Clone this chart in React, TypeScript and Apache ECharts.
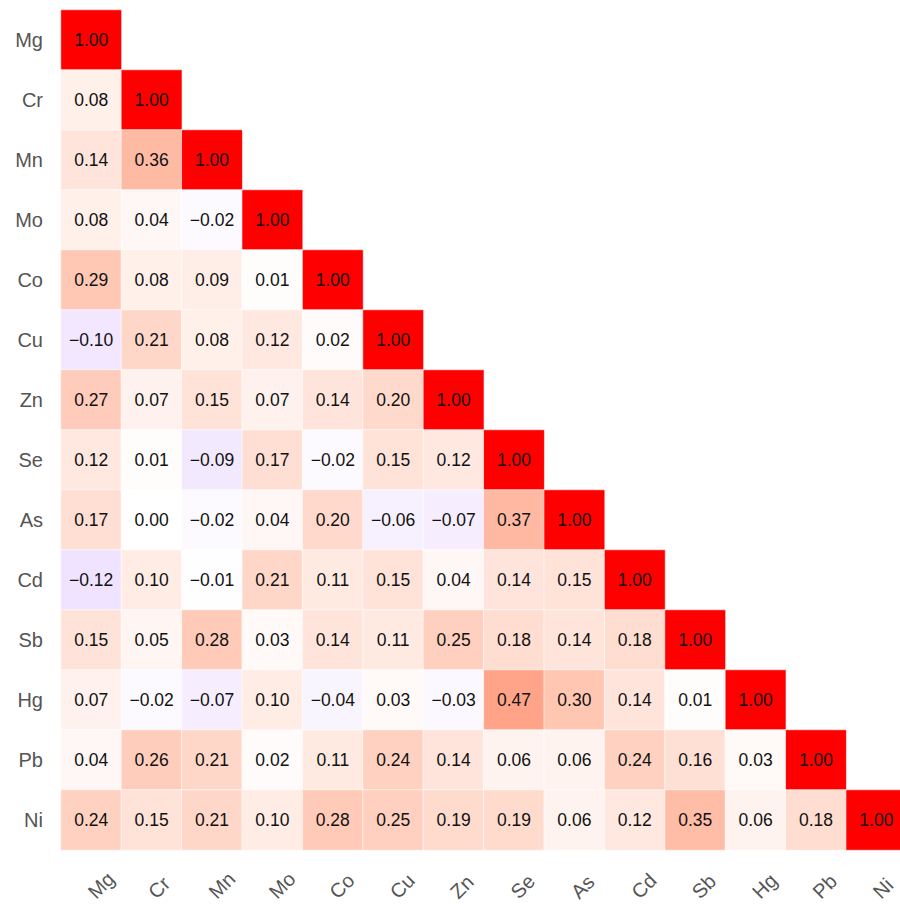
import React, { useEffect, useRef } from "react";
import * as echarts from "echarts";

const elements = ["Mg", "Cr", "Mn", "Mo", "Co", "Cu", "Zn", "Se", "As", "Cd", "Sb", "Hg", "Pb", "Ni"];

const rowMg = [1.0];
const rowCr = [0.08, 1.0];
const rowMn = [0.14, 0.36, 1.0];
const rowMo = [0.08, 0.04, -0.02, 1.0];
const rowCo = [0.29, 0.08, 0.09, 0.01, 1.0];
const rowCu = [-0.1, 0.21, 0.08, 0.12, 0.02, 1.0];
const rowZn = [0.27, 0.07, 0.15, 0.07, 0.14, 0.2, 1.0];
const rowSe = [0.12, 0.01, -0.09, 0.17, -0.02, 0.15, 0.12, 1.0];
const rowAs = [0.17, 0.0, -0.02, 0.04, 0.2, -0.06, -0.07, 0.37, 1.0];
const rowCd = [-0.12, 0.1, -0.01, 0.21, 0.11, 0.15, 0.04, 0.14, 0.15, 1.0];
const rowSb = [0.15, 0.05, 0.28, 0.03, 0.14, 0.11, 0.25, 0.18, 0.14, 0.18, 1.0];
const rowHg = [0.07, -0.02, -0.07, 0.1, -0.04, 0.03, -0.03, 0.47, 0.3, 0.14, 0.01, 1.0];
const rowPb = [0.04, 0.26, 0.21, 0.02, 0.11, 0.24, 0.14, 0.06, 0.06, 0.24, 0.16, 0.03, 1.0];
const rowNi = [0.24, 0.15, 0.21, 0.1, 0.28, 0.25, 0.19, 0.19, 0.06, 0.12, 0.35, 0.06, 0.18, 1.0];

const rows = [rowMg, rowCr, rowMn, rowMo, rowCo, rowCu, rowZn, rowSe, rowAs, rowCd, rowSb, rowHg, rowPb, rowNi];

// --- Lab interpolation helpers for the diverging colour scale ---
function srgbToLin(c: number) {
  c /= 255;
  return c <= 0.04045 ? c / 12.92 : Math.pow((c + 0.055) / 1.055, 2.4);
}
function linToSrgb(c: number) {
  c = Math.max(0, Math.min(1, c));
  const v = c <= 0.0031308 ? 12.92 * c : 1.055 * Math.pow(c, 1 / 2.4) - 0.055;
  return Math.round(Math.max(0, Math.min(1, v)) * 255);
}
const Xn = 0.95047, Yn = 1.0, Zn = 1.08883;
function rgbToLab(rgb: number[]) {
  const r = srgbToLin(rgb[0]), g = srgbToLin(rgb[1]), b = srgbToLin(rgb[2]);
  const X = (0.4124 * r + 0.3576 * g + 0.1805 * b) / Xn;
  const Y = (0.2126 * r + 0.7152 * g + 0.0722 * b) / Yn;
  const Z = (0.0193 * r + 0.1192 * g + 0.9505 * b) / Zn;
  const f = (t: number) => (t > 0.008856 ? Math.cbrt(t) : 7.787 * t + 16 / 116);
  const fx = f(X), fy = f(Y), fz = f(Z);
  return [116 * fy - 16, 500 * (fx - fy), 200 * (fy - fz)];
}
function labToRgb(lab: number[]) {
  const fy = (lab[0] + 16) / 116;
  const fx = fy + lab[1] / 500;
  const fz = fy - lab[2] / 200;
  const inv = (t: number) => (t > 0.206893 ? t * t * t : (t - 16 / 116) / 7.787);
  const X = inv(fx) * Xn, Y = inv(fy) * Yn, Z = inv(fz) * Zn;
  const r = 3.2406 * X - 1.5372 * Y - 0.4986 * Z;
  const g = -0.9689 * X + 1.8758 * Y + 0.0415 * Z;
  const b = 0.0557 * X - 0.204 * Y + 1.057 * Z;
  return "rgb(" + linToSrgb(r) + "," + linToSrgb(g) + "," + linToSrgb(b) + ")";
}
function buildStops(n: number) {
  const neg = rgbToLab([0, 0, 255]);
  const mid = rgbToLab([255, 255, 255]);
  const pos = rgbToLab([255, 0, 0]);
  const out: string[] = [];
  for (let i = 0; i <= n; i++) {
    const v = -1 + (2 * i) / n;
    const end = v < 0 ? neg : pos;
    const t = Math.abs(v);
    out.push(labToRgb([mid[0] + (end[0] - mid[0]) * t, mid[1] + (end[1] - mid[1]) * t, mid[2] + (end[2] - mid[2]) * t]));
  }
  return out;
}

const FONT = "'Liberation Sans', Arial, Helvetica, sans-serif";

export default function App() {
  const ref = useRef<HTMLDivElement>(null);
  useEffect(() => {
    if (!ref.current) return;
    const chart = echarts.init(ref.current, null, { renderer: "svg" });
    const data: any[] = [];
    rows.forEach((row, r) => {
      row.forEach((v, c) => {
        data.push([c, r, v]);
      });
    });
    chart.setOption({
      animation: false,
      backgroundColor: "#ffffff",
      grid: { left: 61, top: 10, width: 845.6, height: 840, outerBoundsMode: "none", containLabel: false },
      xAxis: {
        type: "category",
        data: elements,
        axisLine: { show: false },
        axisTick: { show: false },
        splitLine: { show: false },
        axisLabel: {
          rotate: 45,
          align: "left",
          verticalAlign: "middle",
          margin: 45,
          fontSize: 20,
          color: "#555555",
          fontFamily: FONT,
          interval: 0,
        },
      },
      yAxis: {
        type: "category",
        data: elements,
        inverse: true,
        axisLine: { show: false },
        axisTick: { show: false },
        splitLine: { show: false },
        axisLabel: { margin: 18, fontSize: 20, color: "#555555", fontFamily: FONT, interval: 0 },
      },
      visualMap: {
        show: false,
        type: "continuous",
        min: -1,
        max: 1,
        dimension: 2,
        inRange: { color: buildStops(40) },
      },
      series: [
        {
          type: "heatmap",
          data,
          itemStyle: { borderColor: "rgba(255,255,255,0.6)", borderWidth: 1 },
          label: {
            show: true,
            fontSize: 17.5,
            color: "#111111",
            fontFamily: FONT,
            formatter: (p: any) => {
              const v = p.value[2] as number;
              const s = Math.abs(v).toFixed(2);
              return v < 0 ? "\u2212" + s : s;
            },
          },
          emphasis: { disabled: true },
        },
      ],
    });
    return () => chart.dispose();
  }, []);
  return <div ref={ref} style={{ position: "fixed", left: 0, top: 0, width: 900, height: 904 }} />;
}
